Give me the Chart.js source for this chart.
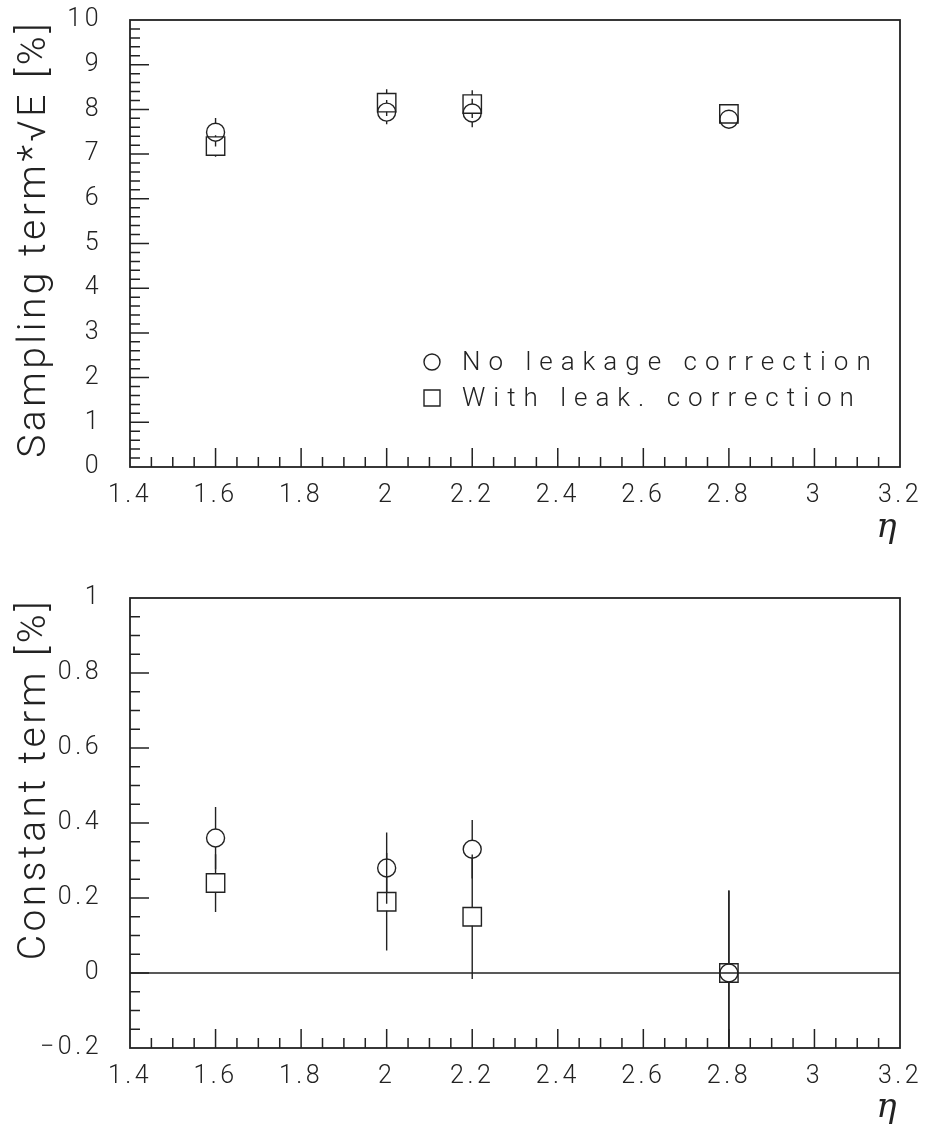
<!DOCTYPE html>
<html>
<head>
<meta charset="utf-8">
<script src="https://cdn.jsdelivr.net/npm/chart.js@4"></script>
<style>
  html, body { margin: 0; padding: 0; background: #fff; }
  #wrap { position: relative; width: 928px; height: 1129px; }
  .box { position: absolute; left: 0; width: 928px; }
  #top { top: 0; height: 565px; }
  #bot { top: 565px; height: 564px; }
</style>
</head>
<body>
<div id="wrap">
  <div class="box" id="top"><canvas id="c1"></canvas></div>
  <div class="box" id="bot"><canvas id="c2"></canvas></div>
</div>
<script>
// data
const eta = [1.6, 2.0, 2.2, 2.8];
const seriesLabels = ['No leakage correction', 'With leak. correction'];

const samplingNoLeak    = [7.49, 7.94, 7.92, 7.78];
const samplingNoLeakErr = [0.32, 0.27, 0.32, 0.20];
const samplingLeak      = [7.18, 8.15, 8.12, 7.90];
const samplingLeakErr   = [0.24, 0.30, 0.31, 0.20];

const constNoLeak    = [0.36, 0.28, 0.33, 0.00];
const constNoLeakErr = [0.083, 0.095, 0.078, 0.22];
const constLeak      = [0.24, 0.19, 0.15, 0.00];
const constLeakErr   = [0.077, 0.13, 0.166, 0.22];

const xTicks = [1.4, 1.6, 1.8, 2.0, 2.2, 2.4, 2.6, 2.8, 3.0, 3.2];
const samplingTicks = [0, 1, 2, 3, 4, 5, 6, 7, 8, 9, 10];
const constTicks = [-0.2, 0, 0.2, 0.4, 0.6, 0.8, 1.0];

const FONT = 'Roboto, "DejaVu Sans", sans-serif';
const INK = '#222';

const fmt = v => String(+v.toFixed(2)).replace('-', '\u2212');
const pts = (ys) => eta.map((x, i) => ({ x, y: ys[i] }));

// ROOT-like frame, inward ticks, error bars, zero line and legend
const rootPlot = {
  id: 'rootPlot',
  beforeDraw(chart) {
    chart.ctx.letterSpacing = '3.5px';
  },
  beforeDatasetsDraw(chart) {
    const { ctx, chartArea: ca, scales: { x, y } } = chart;
    const o = chart.options.plugins.rootPlot;
    ctx.save();
    ctx.beginPath();
    ctx.rect(ca.left, ca.top, ca.right - ca.left, ca.bottom - ca.top);
    ctx.clip();
    ctx.strokeStyle = INK;
    ctx.lineWidth = 1.4;
    if (o.zeroLine) {
      const y0 = y.getPixelForValue(0);
      ctx.beginPath(); ctx.moveTo(ca.left, y0); ctx.lineTo(ca.right, y0); ctx.stroke();
    }
    chart.data.datasets.forEach((ds) => {
      const gap = o.gap;
      ds.data.forEach((p, i) => {
        const e = ds.err[i];
        const px = x.getPixelForValue(p.x);
        const pc = y.getPixelForValue(p.y);
        const hi = y.getPixelForValue(p.y + e);
        const lo = y.getPixelForValue(p.y - e);
        ctx.beginPath();
        if (pc - hi > gap) { ctx.moveTo(px, hi); ctx.lineTo(px, pc - gap); }
        if (lo - pc > gap) { ctx.moveTo(px, pc + gap); ctx.lineTo(px, lo); }
        ctx.stroke();
      });
    });
    ctx.restore();
  },
  afterDraw(chart) {
    const { ctx, chartArea: ca, scales: { x, y } } = chart;
    const o = chart.options.plugins.rootPlot;
    ctx.save();
    ctx.strokeStyle = INK;
    ctx.lineWidth = 1.8;
    ctx.strokeRect(ca.left, ca.top, ca.right - ca.left, ca.bottom - ca.top);

    ctx.lineWidth = 1.5;
    ctx.beginPath();
    // x ticks
    const nx = Math.round((x.max - x.min) / o.xMinor);
    for (let i = 1; i < nx; i++) {
      const v = x.min + i * o.xMinor;
      const major = xTicks.some(t => Math.abs(t - v) < 1e-6);
      const px = x.getPixelForValue(v);
      ctx.moveTo(px, ca.bottom); ctx.lineTo(px, ca.bottom - (major ? 19 : 10));
    }
    // y ticks
    const ny = Math.round((y.max - y.min) / o.yMinor);
    for (let i = 1; i < ny; i++) {
      const v = y.min + i * o.yMinor;
      const major = o.yTicks.some(t => Math.abs(t - v) < 1e-6);
      const py = y.getPixelForValue(v);
      ctx.moveTo(ca.left, py); ctx.lineTo(ca.left + (major ? 19 : 10), py);
    }
    ctx.stroke();

    if (o.legend) {
      const L = o.legend;
      ctx.font = '300 26px ' + FONT;
      ctx.letterSpacing = '8px';
      ctx.fillStyle = INK;
      ctx.textBaseline = 'middle';
      ctx.lineWidth = 1.4;
      chart.data.datasets.forEach((ds, i) => {
        const cy = L.y + i * L.dy;
        ctx.beginPath();
        if (ds.pointStyle === 'circle') {
          ctx.arc(L.x, cy, 8, 0, Math.PI * 2);
        } else {
          ctx.rect(L.x - 8, cy - 8, 16, 16);
        }
        ctx.stroke();
        ctx.fillText(ds.label, L.tx, cy + 1);
      });
    }
    ctx.restore();
  }
};

function makeChart(id, opts) {
  const tickFont = { family: FONT, size: 25, weight: 300 };
  return new Chart(document.getElementById(id), {
    type: 'scatter',
    data: {
      datasets: [
        { label: seriesLabels[0], data: pts(opts.a), err: opts.aErr,
          pointStyle: 'circle', pointRadius: 9, pointHoverRadius: 9,
          borderColor: INK, backgroundColor: 'rgba(0,0,0,0)', borderWidth: 1.4 },
        { label: seriesLabels[1], data: pts(opts.b), err: opts.bErr,
          pointStyle: 'rect', pointRadius: 13, pointHoverRadius: 13,
          borderColor: INK, backgroundColor: 'rgba(0,0,0,0)', borderWidth: 1.4 }
      ]
    },
    options: {
      responsive: true, maintainAspectRatio: false, animation: false,
      layout: { padding: { top: opts.padTop, right: 28, left: 0, bottom: 0 } },
      plugins: {
        legend: { display: false }, tooltip: { enabled: false },
        rootPlot: { xMinor: 0.05, yMinor: opts.yMinor, yTicks: opts.yTicks,
                    zeroLine: opts.zeroLine, legend: opts.legend, gap: 9 }
      },
      scales: {
        x: {
          type: 'linear', min: 1.4, max: 3.2,
          afterFit: s => { s.height = opts.xHeight; s.paddingLeft = 0; s.paddingRight = 0; },
          afterBuildTicks: s => { s.ticks = xTicks.map(v => ({ value: v })); },
          grid: { display: false, drawTicks: false },
          border: { display: false },
          ticks: { callback: fmt, font: tickFont, color: INK, padding: 14,
                   autoSkip: false, maxRotation: 0 },
          title: { display: true, text: '\u03b7', align: 'end', color: INK,
                   font: { family: '"DejaVu Serif", serif', style: 'italic', size: 34 },
                   padding: { bottom: opts.etaPad, top: 0 } }
        },
        y: {
          type: 'linear', min: opts.yTicks[0], max: opts.yTicks[opts.yTicks.length - 1],
          afterFit: s => { s.width = 130; s.paddingTop = 0; s.paddingBottom = 0; },
          afterBuildTicks: s => { s.ticks = opts.yTicks.map(v => ({ value: v })); },
          grid: { display: false, drawTicks: false },
          border: { display: false },
          ticks: { callback: fmt, font: tickFont, color: INK, padding: 28, autoSkip: false },
          title: { display: true, text: opts.yTitle, align: 'end', color: INK,
                   font: { family: FONT, size: 39, weight: 300 },
                   padding: { top: 12, bottom: 0 } }
        }
      }
    },
    plugins: [rootPlot]
  });
}

makeChart('c1', {
  a: samplingNoLeak, aErr: samplingNoLeakErr, b: samplingLeak, bErr: samplingLeakErr,
  yTicks: samplingTicks, yMinor: 0.2, yTitle: 'Sampling term*\u221aE [%]',
  padTop: 20, xHeight: 98, etaPad: 16, zeroLine: false,
  legend: { x: 432, y: 362, dy: 36, tx: 462 }
});

makeChart('c2', {
  a: constNoLeak, aErr: constNoLeakErr, b: constLeak, bErr: constLeakErr,
  yTicks: constTicks, yMinor: 0.05, yTitle: 'Constant term [%]',
  padTop: 33, xHeight: 81, etaPad: 0, zeroLine: true,
  legend: null
});
</script>
</body>
</html>
